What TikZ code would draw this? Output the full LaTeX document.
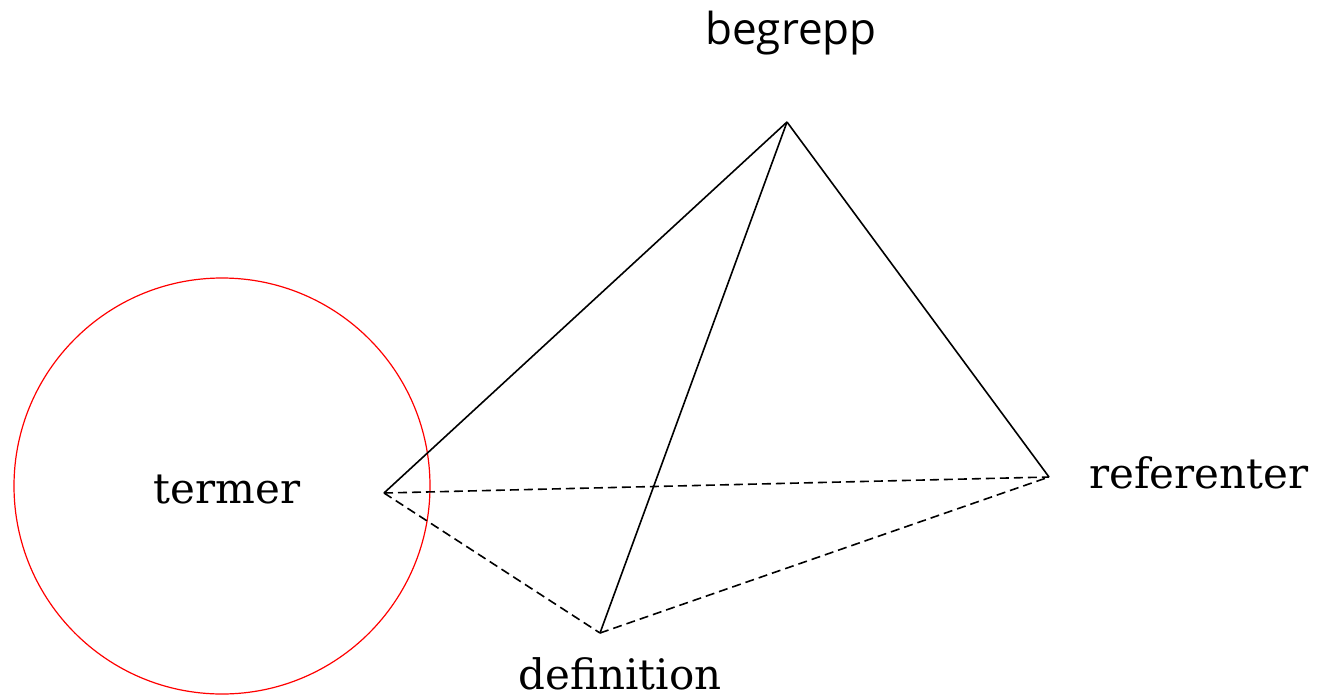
\documentclass[tikz,border=0pt]{standalone}
\usepackage{fontspec}
\setmainfont{DejaVu Serif}
\newfontfamily\labelsans{Open Sans}
\usepackage{tikz}
\usetikzlibrary{positioning}
\definecolor{ring}{HTML}{FF0000}

\begin{document}
\begin{tikzpicture}[x=0.5pt, y=-0.5pt, every node/.style={inner sep=0pt}, serifl/.style={font=\fontsize{21}{23}\selectfont}, sansl/.style={font=\labelsans\fontsize{22}{24}\selectfont}, edge/.style={line width=0.8pt}, hidden/.style={line width=0.8pt, dash pattern=on 4.5pt off 2.5pt}]
\useasboundingbox (0,0) rectangle (1317,697);
\coordinate (top) at (787,122);
\coordinate (term) at (384,493);
\coordinate (ref) at (1049,477);
\coordinate (def) at (600,633);
\draw[ring, line width=0.6pt] (222,486) circle[radius=208];
\node[sansl] (begrepp) at (791,33) {begrepp};
\node[serifl] (termer) at (227,490) {termer};
\node[serifl] (referenter) at (1199,473) {referenter};
\node[serifl] (definition) at (620,674) {definition};
\draw[edge] (term)--(top);
\draw[edge] (top)--(def);
\draw[edge] (top)--(ref);
\draw[hidden] (term)--(ref);
\draw[hidden] (term)--(def);
\draw[hidden] (def)--(ref);
\end{tikzpicture}
\end{document}
